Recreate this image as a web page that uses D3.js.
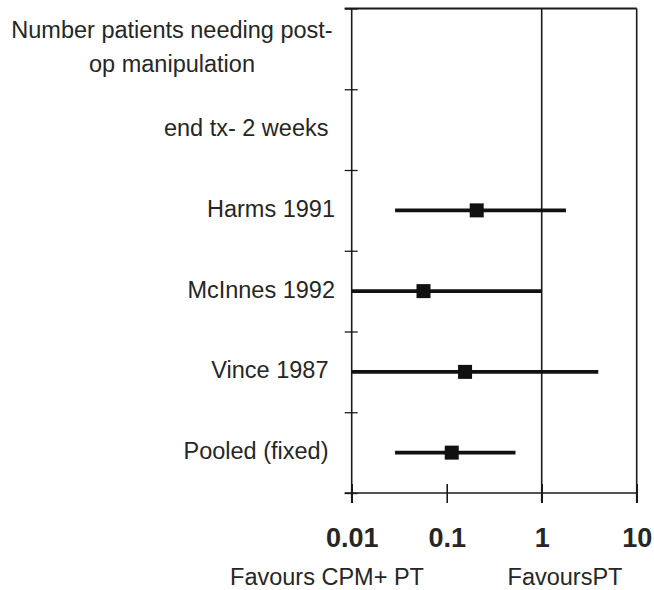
<!DOCTYPE html>
<html>
<head>
<meta charset="utf-8">
<script src="https://cdn.jsdelivr.net/npm/d3@7"></script>
<style>
  body { margin: 0; background: #fff; }
  text { font-family: "Liberation Sans", Arial, sans-serif; fill: #262626; white-space: pre; }
</style>
</head>
<body>
<div id="chart"></div>
<script>
// rows, top to bottom (trailing spaces as in the original labels)
const headerLines = ["Number patients needing post-", "op manipulation"];
const rowLabels = ["", "end tx- 2 weeks ", "Harms 1991", "McInnes 1992", "Vince 1987 ", "Pooled (fixed) "];
// odds ratio estimates and confidence limits (null = no mark)
const estimates = [null, null, 0.207, 0.057, 0.156, 0.113];
const lowerCI = [null, null, 0.0286, 0.01, 0.01, 0.0286];
const upperCI = [null, null, 1.8, 1.0, 3.94, 0.53];
const xTicks = [0.01, 0.1, 1, 10];
const xTickLabels = ["0.01", "0.1", "1", "10"];
const leftNote = "Favours CPM+ PT";
const rightNote = "FavoursPT";

const width = 654, height = 590;
const plot = { left: 351.7, right: 636.7, top: 8.5, bottom: 493 };

const svg = d3.select("#chart").append("svg")
    .attr("width", width)
    .attr("height", height);

const x = d3.scaleLog()
    .domain([0.01, 10])
    .range([plot.left, plot.right])
    .clamp(true);
const y = d3.scaleLinear()
    .domain([0, rowLabels.length])
    .range([plot.top, plot.bottom]);

// top border
svg.append("line")
    .attr("x1", plot.left - 7).attr("x2", plot.right)
    .attr("y1", plot.top).attr("y2", plot.top)
    .attr("stroke", "#1a1a1a").attr("stroke-width", 2);

// vertical lines at 1 and at the right edge
svg.selectAll("line.vline")
    .data([1, 10])
    .enter().append("line")
    .attr("class", "vline")
    .attr("x1", d => x(d)).attr("x2", d => x(d))
    .attr("y1", plot.top).attr("y2", plot.bottom + 10)
    .attr("stroke", "#1a1a1a").attr("stroke-width", 1.6);

// left axis with ticks at row boundaries
const yAxis = svg.append("g")
    .attr("transform", "translate(" + plot.left + ",0)")
    .call(d3.axisLeft(y).ticks(rowLabels.length).tickSize(7).tickFormat(""));
yAxis.select(".domain").remove();
yAxis.append("line")
    .attr("x1", 0).attr("x2", 0)
    .attr("y1", plot.top).attr("y2", plot.bottom + 10)
    .attr("stroke", "#1a1a1a").attr("stroke-width", 1.6);
yAxis.selectAll(".tick line")
    .attr("x1", 6).attr("x2", -7)
    .attr("stroke", "#1a1a1a").attr("stroke-width", 1.3);

// bottom axis
const xAxis = svg.append("g")
    .attr("transform", "translate(0," + plot.bottom + ")")
    .call(d3.axisBottom(x).tickValues(xTicks).tickSize(10)
        .tickFormat((d, i) => xTickLabels[i]));
xAxis.select(".domain")
    .attr("d", "M" + (plot.left - 7) + ",0H" + plot.right)
    .attr("stroke", "#1a1a1a").attr("stroke-width", 1.6);
xAxis.selectAll(".tick line")
    .attr("y1", -9).attr("y2", 10)
    .attr("stroke", "#1a1a1a").attr("stroke-width", 1.6);
xAxis.selectAll(".tick text")
    .attr("y", 54).attr("dy", 0)
    .style("font-family", "'Liberation Sans', Arial, sans-serif")
    .style("font-size", "27px")
    .style("font-weight", "bold")
    .attr("fill", "#262626");

// header (two centred lines)
svg.selectAll("text.header")
    .data(headerLines)
    .enter().append("text")
    .attr("class", "header")
    .attr("x", 172)
    .attr("y", (d, i) => y(0.5) - 11 + i * 34)
    .attr("text-anchor", "middle")
    .style("font-size", "23.5px")
    .text(d => d);

// row labels
svg.selectAll("text.row")
    .data(rowLabels)
    .enter().append("text")
    .attr("class", "row")
    .attr("x", 335)
    .attr("y", (d, i) => y(i + 0.5))
    .attr("dy", "0.28em")
    .attr("text-anchor", "end")
    .style("font-size", "23.5px")
    .text(d => d);

// confidence intervals and point estimates
const rows = d3.range(rowLabels.length).filter(i => estimates[i] !== null);

svg.selectAll("line.ci")
    .data(rows)
    .enter().append("line")
    .attr("class", "ci")
    .attr("x1", i => x(lowerCI[i]))
    .attr("x2", i => x(upperCI[i]))
    .attr("y1", i => y(i + 0.5))
    .attr("y2", i => y(i + 0.5))
    .attr("stroke", "#111")
    .attr("stroke-width", 3.8);

const sq = 14;
svg.selectAll("rect.est")
    .data(rows)
    .enter().append("rect")
    .attr("class", "est")
    .attr("x", i => x(estimates[i]) - sq / 2)
    .attr("y", i => y(i + 0.5) - sq / 2)
    .attr("width", sq)
    .attr("height", sq)
    .attr("fill", "#111");

// favours labels
svg.append("text")
    .attr("x", 327).attr("y", 585)
    .attr("text-anchor", "middle")
    .style("font-size", "23.5px")
    .text(leftNote);
svg.append("text")
    .attr("x", 565).attr("y", 585)
    .attr("text-anchor", "middle")
    .style("font-size", "23.5px")
    .text(rightNote);
</script>
</body>
</html>
